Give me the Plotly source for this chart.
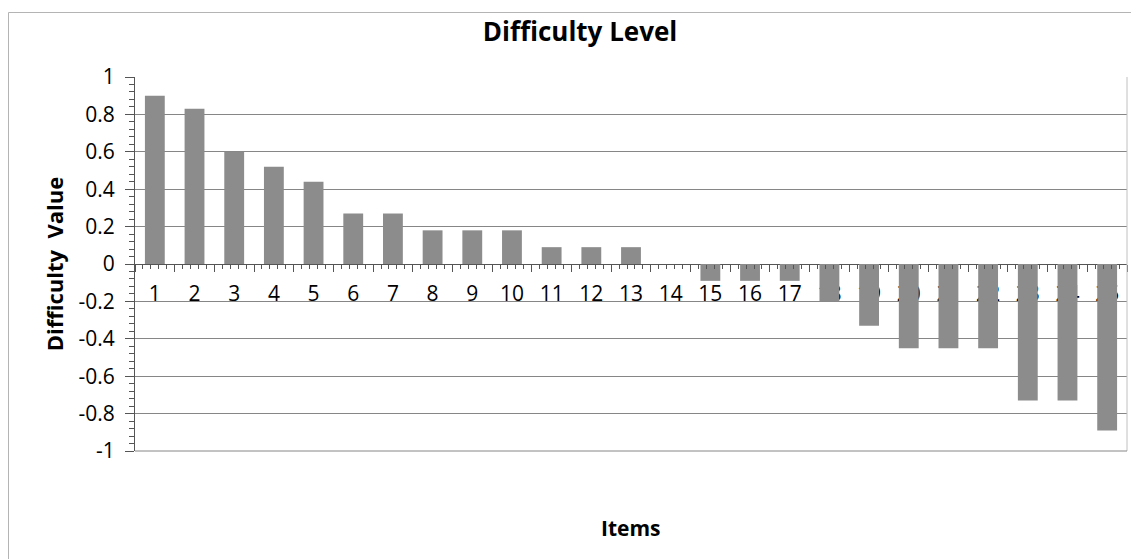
import plotly.graph_objects as go

items = list(range(1, 26))
item_labels = [str(i) for i in items]
difficulty = [0.9, 0.83, 0.6, 0.52, 0.44, 0.27, 0.27, 0.18, 0.18, 0.18,
              0.09, 0.09, 0.09, 0.0, -0.09, -0.09, -0.09, -0.2, -0.33,
              -0.45, -0.45, -0.45, -0.73, -0.73, -0.89]
y_tickvals = [-1, -0.8, -0.6, -0.4, -0.2, 0, 0.2, 0.4, 0.6, 0.8, 1]
y_ticktext = ["-1", "-0.8", "-0.6", "-0.4", "-0.2", "0", "0.2", "0.4", "0.6", "0.8", "1"]
boundaries = [i - 0.5 for i in items] + [items[-1] + 0.5]

FONT = "Open Sans"
GRID = "#868686"
AX = "#555"

W, H = 1131, 551
ML, MR, MT, MB = 127, 12, 69, 108
PW, PH = W - ML - MR, H - MT - MB

fig = go.Figure()
fig.add_trace(go.Bar(x=items, y=difficulty, marker=dict(color="#8c8c8c", line=dict(width=0)),
                     width=0.5, showlegend=False))
fig.add_trace(go.Scatter(x=[items[0]], y=[0], xaxis="x2", mode="markers",
                         marker=dict(opacity=0), showlegend=False, hoverinfo="skip"))

fig.update_layout(
    width=W, height=H,
    paper_bgcolor="white", plot_bgcolor="white",
    margin=dict(l=ML, r=MR, t=MT, b=MB, autoexpand=False),
    title=dict(text="<b>Difficulty Level</b>", x=572 / W, xanchor="center",
               y=1 - 24 / H, yanchor="middle", font=dict(family=FONT, size=26, color="#000")),
    font=dict(family=FONT, color="#000"),
    xaxis=dict(range=[0.5, 25.5], tickmode="array", tickvals=items, ticktext=item_labels,
               ticks="", showgrid=False, zeroline=False, showline=True, linecolor=AX,
               anchor="free", position=0.5, layer="below traces", ticklabelstandoff=11,
               tickfont=dict(size=21, family=FONT), automargin=False),
    xaxis2=dict(range=[0.5, 25.5], overlaying="x", anchor="free", position=0.5,
                tickmode="array", tickvals=boundaries, showticklabels=False,
                ticks="outside", ticklen=7, tickcolor=AX, showgrid=False, zeroline=False,
                showline=False, automargin=False,
                minor=dict(tickmode="linear", tick0=0.5, dtick=0.2, ticks="outside",
                           ticklen=4, tickcolor=AX)),
    yaxis=dict(range=[-1, 1], tickmode="array", tickvals=y_tickvals, ticktext=y_ticktext,
               showgrid=True, gridcolor=GRID, gridwidth=1, zeroline=False, showline=True,
               linecolor=AX, ticks="outside", ticklen=9, tickcolor=AX,
               tickfont=dict(size=21, family=FONT), ticklabelstandoff=6, automargin=False,
               minor=dict(tickmode="linear", tick0=-1, dtick=0.04, ticks="outside",
                          ticklen=5, tickcolor=AX, showgrid=False),
               title=dict(text="<b>Difficulty  Value</b>", font=dict(size=22, family=FONT),
                          standoff=8)),
    annotations=[dict(text="<b>Items</b>", xref="paper", yref="paper",
                      x=(623 - ML) / PW, y=(H - MB - 520) / PH,
                      xanchor="center", yanchor="middle", showarrow=False,
                      font=dict(size=21, family=FONT))],
    shapes=[
        dict(type="line", xref="paper", yref="paper", x0=1, x1=1, y0=0, y1=1,
             line=dict(color="#c0c0c0", width=1)),
        dict(type="line", xref="paper", yref="paper", x0=0, x1=1, y0=0, y1=0,
             line=dict(color=GRID, width=1)),
        dict(type="rect", xref="paper", yref="paper",
             x0=(0.5 - ML) / PW, x1=(W + 20 - ML) / PW,
             y0=(H - MB - (H + 20)) / PH, y1=(H - MB - 4.5) / PH,
             line=dict(color="#b4b4b4", width=1)),
    ],
)

fig.write_html("out.html")
